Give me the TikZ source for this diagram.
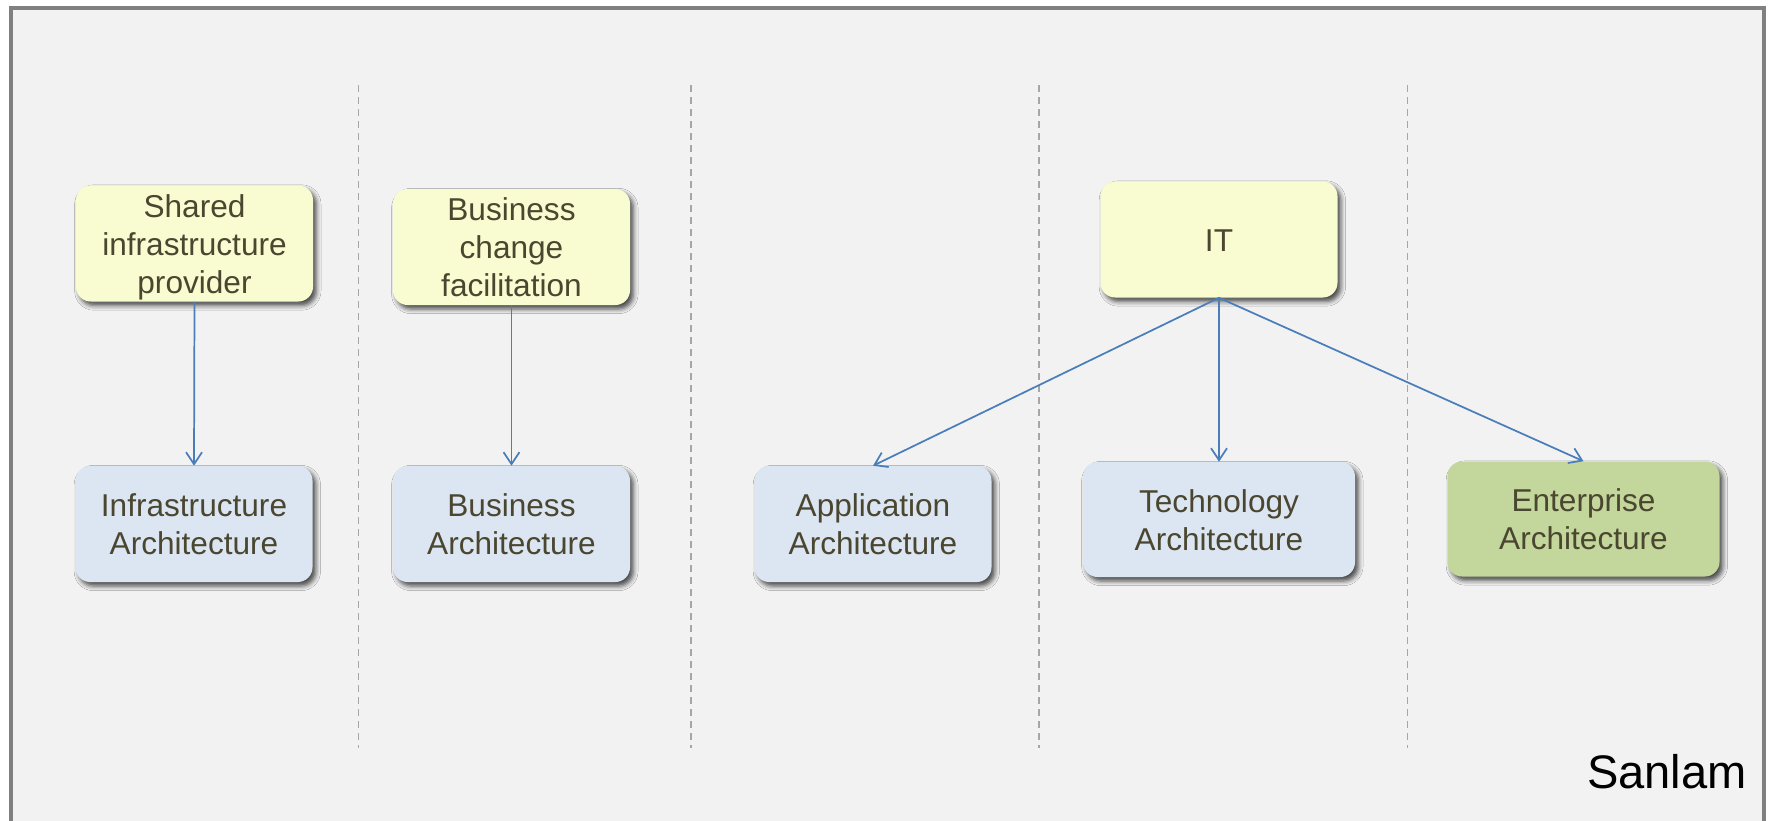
\documentclass[tikz,border=0pt]{standalone}
\usepackage{fontspec}
\setmainfont{Liberation Sans}
\usetikzlibrary{arrows.meta,shadows.blur}

\definecolor{pagebg}{HTML}{F2F2F2}
\definecolor{framegray}{HTML}{808080}
\definecolor{dashgray}{HTML}{A6A6A6}
\definecolor{linkblue}{HTML}{4A7EBB}
\definecolor{boxtext}{HTML}{4A4630}
\definecolor{yellowbox}{HTML}{F9FBD0}
\definecolor{bluebox}{HTML}{DCE6F2}
\definecolor{greenbox}{HTML}{C3D69B}

% line strut: every text line gets the same box, so labels centre on their line boxes
\newcommand{\lnstrut}{\rule[-5.35pt]{0pt}{28.5pt}}

\tikzset{
  card/.style={rounded corners=11pt, inner sep=0pt, align=center,
    minimum width=177.75pt, minimum height=87pt,
    text=boxtext, font=\fontsize{23.7pt}{28.5pt}\selectfont,
    blur shadow={shadow xshift=2.5pt, shadow yshift=-3pt,
      shadow blur radius=3.5pt, shadow opacity=70}},
  rolebox/.style={card, fill=yellowbox},
  archbox/.style={card, fill=bluebox},
  entbox/.style={card, fill=greenbox},
  widebox/.style={minimum width=204pt, minimum height=86.25pt},
  link/.style={draw=linkblue, line width=1.3pt,
    -{Straight Barb[length=9pt,width=12pt]}},
  divider/.style={draw=dashgray, line width=1.1pt, dash pattern=on 5.6pt off 3.4pt}
}

\begin{document}
\begin{tikzpicture}[x=0.75pt,y=-0.75pt]
  \useasboundingbox (0,0) rectangle (1771,821);
  \fill[white] (0,0) rectangle (1771,821);

  % panel with grey frame (open at the bottom edge)
  \draw[framegray, line width=3pt, fill=pagebg] (11,7.5) rectangle (1763.5,840);

  % column dividers
  \foreach \xx in {358.5,691,1039,1407.5}
    \draw[divider] (\xx,85) -- (\xx,748);

  % top row: roles
  \node[rolebox] (shared) at (194.5,243.5) {\lnstrut Shared\\\lnstrut infrastructure\\\lnstrut provider};
  \node[rolebox] (change) at (511.5,247) {\lnstrut Business\\\lnstrut change\\\lnstrut facilitation};
  \node[rolebox] (it) at (1219,239.5) {\lnstrut IT};

  % bottom row: architectures
  \node[archbox] (infra) at (194,524) {\lnstrut Infrastructure\\\lnstrut Architecture};
  \node[archbox] (bus) at (511.5,524) {\lnstrut Business\\\lnstrut Architecture};
  \node[archbox] (app) at (873,524) {\lnstrut Application\\\lnstrut Architecture};
  \node[archbox, widebox] (tech) at (1219,519.5) {\lnstrut Technology\\\lnstrut Architecture};
  \node[entbox, widebox] (ent) at (1583.5,519) {\lnstrut Enterprise\\\lnstrut Architecture};

  % connectors
  \draw[link] (shared.south) -- (infra.north);
  \draw[link] (change.south) -- (bus.north);
  \draw[link] (it.south) -- (app.north);
  \draw[link] (it.south) -- (tech.north);
  \draw[link] (it.south) -- (ent.north);

  % company name
  \node[anchor=base east, inner sep=0pt, font=\fontsize{35.3pt}{40pt}\selectfont]
    (sanlam) at (1747,788) {Sanlam};
\end{tikzpicture}
\end{document}
